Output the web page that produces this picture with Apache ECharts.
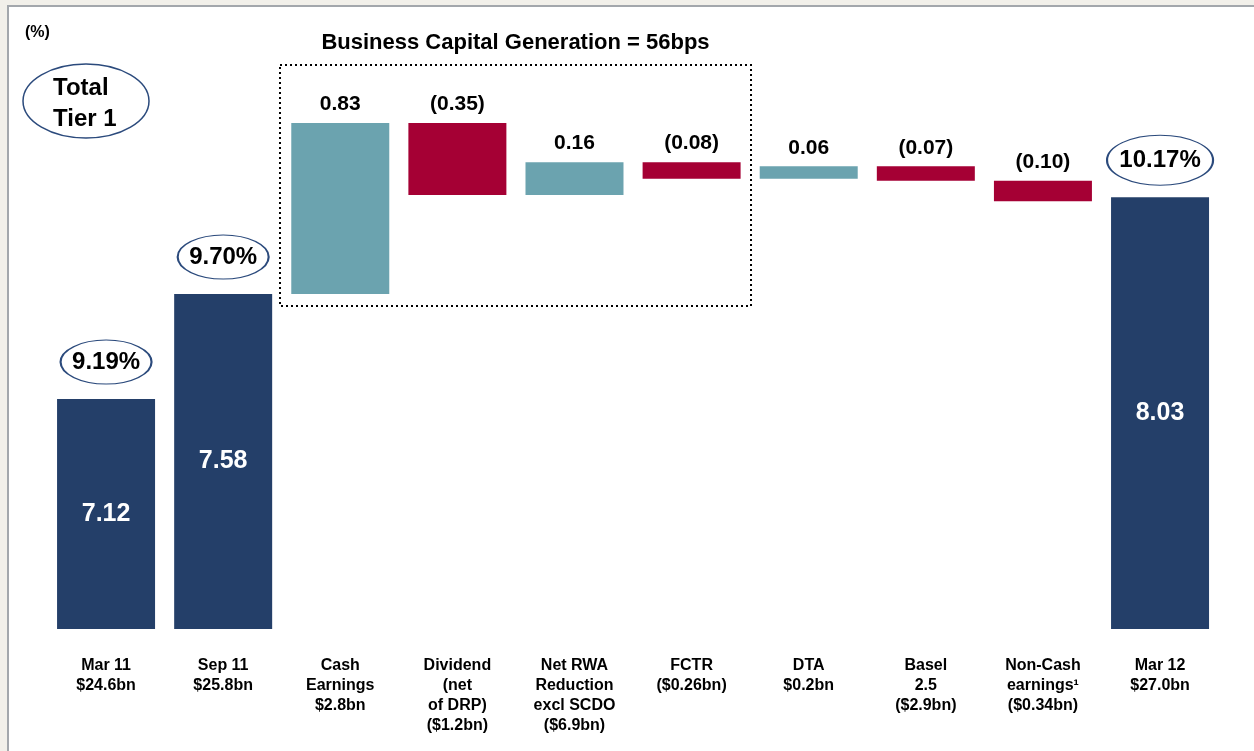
<!DOCTYPE html>
<html>
<head>
<meta charset="utf-8">
<script src="https://cdn.jsdelivr.net/npm/echarts@6/dist/echarts.min.js"></script>
<style>
  html, body { margin: 0; padding: 0; background: #F2F0EA; width: 1254px; height: 751px; overflow: hidden; }
  #panel { position: absolute; left: 7px; top: 5px; right: 0; bottom: 0; background: #fff; border-left: 2px solid #A3A7AC; border-top: 2px solid #A3A7AC; }
  #chart { position: absolute; left: 0; top: 0; width: 1254px; height: 751px; }
</style>
</head>
<body>
<div id="panel"></div>
<div id="chart"></div>
<script>
// ---- data ----
const categories = [
  'Mar 11\n$24.6bn',
  'Sep 11\n$25.8bn',
  'Cash\nEarnings\n$2.8bn',
  'Dividend\n(net\nof DRP)\n($1.2bn)',
  'Net RWA\nReduction\nexcl SCDO\n($6.9bn)',
  'FCTR\n($0.26bn)',
  'DTA\n$0.2bn',
  'Basel\n2.5\n($2.9bn)',
  'Non-Cash\nearnings\u00B9\n($0.34bn)',
  'Mar 12\n$27.0bn'
];
// Total Tier 1 ratio (%) for the period-end bars
const totalTier1 = [9.19, 9.70, null, null, null, null, null, null, null, 10.17];
// value printed inside the period-end bars
const innerValues = [7.12, 7.58, null, null, null, null, null, null, null, 8.03];
// movements (%)
const movements = [null, null, 0.83, -0.35, 0.16, -0.08, 0.06, -0.07, -0.10, null];

const title = 'Business Capital Generation = 56bps';
const unitLabel = '(%)';
const legendBadge = 'Total\nTier 1';

// ---- derived waterfall pieces ----
const NAVY = '#243F69', TEAL = '#6BA3AF', CRIMSON = '#A50034', RING = '#2B4A7C';
const FONT = '"Liberation Sans", Arial, Helvetica, sans-serif';

const baseData = [], moveData = [], totalData = [], ringData = [];
let running = null;
for (let i = 0; i < categories.length; i++) {
  if (totalTier1[i] != null) {
    running = totalTier1[i];
    baseData.push('-');
    moveData.push('-');
    totalData.push(totalTier1[i]);
    ringData.push(totalTier1[i]);
  } else {
    const m = movements[i];
    const top = running + m;
    baseData.push(+Math.min(running, top).toFixed(4));
    moveData.push({ value: Math.abs(m), itemStyle: { color: m >= 0 ? TEAL : CRIMSON } });
    totalData.push('-');
    ringData.push('-');
    running = top;
  }
}

const ringLabel = i => (totalTier1[i] == null ? '' : totalTier1[i].toFixed(2) + '%');

const chart = echarts.init(document.getElementById('chart'), null, { renderer: 'canvas' });
chart.setOption({
  backgroundColor: 'transparent',
  animation: false,
  textStyle: { fontFamily: FONT },
  grid: { left: 47.5, right: 35.4, top: 54, bottom: 122 },
  xAxis: {
    type: 'category',
    data: categories,
    axisLine: { show: false },
    axisTick: { show: false },
    splitLine: { show: false },
    axisLabel: {
      interval: 0, margin: 27, fontSize: 16, fontWeight: 'bold', color: '#000',
      lineHeight: 20, fontFamily: FONT, align: 'center'
    }
  },
  yAxis: { type: 'value', min: 8.074, max: 10.865, show: false, splitLine: { show: false } },
  series: [
    {
      type: 'bar', stack: 'wf', data: baseData, barWidth: 98, silent: true,
      itemStyle: { color: 'rgba(0,0,0,0)' }
    },
    {
      type: 'bar', stack: 'wf', data: moveData, barWidth: 98,
      label: {
        show: true, position: 'top', distance: 8, fontSize: 21, fontWeight: 'bold', color: '#000',
        fontFamily: FONT,
        formatter: p => {
          const v = movements[p.dataIndex];
          if (v == null) return '';
          return v < 0 ? '(' + Math.abs(v).toFixed(2) + ')' : v.toFixed(2);
        }
      }
    },
    {
      type: 'bar', stack: 'wf', data: totalData, barWidth: 98,
      itemStyle: { color: NAVY },
      label: {
        show: true, position: 'inside', fontSize: 25, fontWeight: 'bold', color: '#fff',
        fontFamily: FONT,
        formatter: p => (innerValues[p.dataIndex] == null ? '' : innerValues[p.dataIndex].toFixed(2))
      }
    },
    {
      type: 'scatter', data: ringData, symbol: 'circle', z: 10,
      symbolSize: (v, p) => (ringLabel(p.dataIndex).length >= 6 ? [106, 50] : [91, 44]),
      symbolOffset: [0, -37],
      itemStyle: { color: '#fff', borderColor: RING, borderWidth: 1.5, opacity: 1 },
      label: {
        show: true, position: 'inside', fontSize: 24, fontWeight: 'bold',
        color: '#000', fontFamily: FONT,
        formatter: p => ringLabel(p.dataIndex)
      }
    }
  ],
  graphic: [
    { type: 'text', x: 25, y: 33, style: { text: unitLabel, font: 'bold 16px ' + FONT, fill: '#000', verticalAlign: 'middle' } },
    {
      type: 'text', x: 515.5, y: 43,
      style: { text: title, font: 'bold 22px ' + FONT, fill: '#000', align: 'center', verticalAlign: 'middle' }
    },
    {
      type: 'rect', shape: { x: 280, y: 65, width: 471, height: 241 }, z: 0,
      style: { fill: null, stroke: '#000', lineWidth: 2, lineDash: [2, 3] }
    },
    {
      type: 'ellipse', shape: { cx: 86, cy: 101, rx: 63, ry: 37 },
      style: { fill: '#fff', stroke: RING, lineWidth: 1.5 }
    },
    {
      type: 'text', x: 53, y: 73, z: 5,
      style: { text: legendBadge, font: 'bold 24px ' + FONT, fill: '#000', lineHeight: 31, align: 'left', verticalAlign: 'top' }
    }
  ]
});
</script>
</body>
</html>
